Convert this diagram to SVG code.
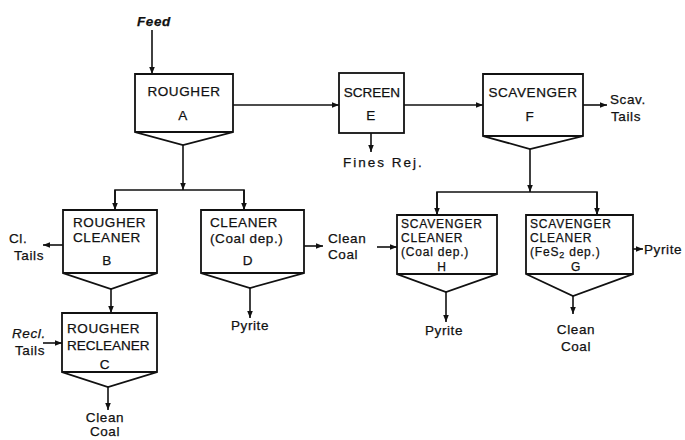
<svg xmlns="http://www.w3.org/2000/svg" width="685" height="440" viewBox="0 0 685 440">
<style>
.box{fill:#fff;stroke:#111;stroke-width:1.8;stroke-linejoin:miter}
.ln{fill:none;stroke:#111;stroke-width:1.6;marker-end:url(#ah)}
.pl{fill:none;stroke:#111;stroke-width:1.6}
text{font-family:"Liberation Sans",Arial,sans-serif;font-size:13.5px;fill:#111;stroke:#111;stroke-width:0.25;letter-spacing:0.6px}
.c{text-anchor:middle}
.s{font-size:12px;letter-spacing:0.8px}
</style>
<defs>
<marker id="ah" viewBox="0 0 10 10" refX="10" refY="5" markerWidth="7" markerHeight="7" markerUnits="userSpaceOnUse" orient="auto">
<path d="M0,1 L10,5 L0,9 z" fill="#111"/>
</marker>
</defs>
<rect width="685" height="440" fill="#fff"/>

<g id="connectors">
<path class="ln" d="M152,30 V74"/>
<path class="ln" d="M233,105 H339"/>
<path class="ln" d="M404,105 H483"/>
<path class="ln" d="M371,133 V152"/>
<path class="ln" d="M583,105 H607"/>
<path class="ln" d="M183,145 V190"/>
<path class="pl" d="M115,210 V190 H244 V210"/>
<path class="ln" d="M115,190 V210"/>
<path class="ln" d="M244,190 V210"/>
<path class="ln" d="M530,149 V192"/>
<path class="pl" d="M437,215 V192 H597 V215"/>
<path class="ln" d="M437,192 V215"/>
<path class="ln" d="M597,192 V215"/>
<path class="ln" d="M63,245 H43"/>
<path class="ln" d="M111,289 V313"/>
<path class="ln" d="M43,343 H62"/>
<path class="ln" d="M108,387 V410"/>
<path class="ln" d="M304,246 H323"/>
<path class="ln" d="M250,288 V318"/>
<path class="ln" d="M377,247 H397"/>
<path class="ln" d="M446,292 V322"/>
<path class="ln" d="M633,249 H643"/>
<path class="ln" d="M573,296 V314"/>
</g>

<g id="labels">
<text x="137" y="26" font-style="italic" font-weight="bold">Feed</text>
<text x="343" y="167" style="letter-spacing:2px">Fines Rej.</text>
<text x="610" y="104">Scav.</text>
<text x="611" y="121">Tails</text>
<text x="9" y="243">Cl.</text>
<text x="14" y="260">Tails</text>
<text x="12" y="338" font-style="italic">Recl.</text>
<text x="15" y="355">Tails</text>
<text x="105" y="422" class="c">Clean</text>
<text x="105" y="436" class="c">Coal</text>
<text x="328" y="243">Clean</text>
<text x="328" y="259">Coal</text>
<text x="250" y="330" class="c">Pyrite</text>
<text x="444" y="335" class="c">Pyrite</text>
<text x="644" y="254">Pyrite</text>
<text x="576" y="334" class="c">Clean</text>
<text x="576" y="351" class="c">Coal</text>
</g>

<g id="A">
<path class="box" d="M135,74 H233 V132 L183,145 L135,132 Z M135,132 H233"/>
<text x="184" y="96" class="c">ROUGHER</text>
<text x="183" y="120" class="c">A</text>
</g>
<g id="E">
<rect class="box" x="339" y="73" width="65" height="60"/>
<text x="372" y="97" class="c" style="letter-spacing:0">SCREEN</text>
<text x="371" y="120" class="c">E</text>
</g>
<g id="F">
<path class="box" d="M483,74 H583 V136 L530,149 L483,136 Z M483,136 H583"/>
<text x="533" y="97" class="c">SCAVENGER</text>
<text x="530" y="121" class="c">F</text>
</g>
<g id="B">
<path class="box" d="M63,210 H157 V273 L111,289 L63,273 Z M63,273 H157"/>
<text x="73" y="227">ROUGHER</text>
<text x="73" y="242">CLEANER</text>
<text x="107" y="265" class="c">B</text>
</g>
<g id="C">
<path class="box" d="M62,313 H157 V372 L108,387 L62,372 Z M62,372 H157"/>
<text x="67" y="333">ROUGHER</text>
<text x="67" y="350" style="letter-spacing:0">RECLEANER</text>
<text x="105" y="369" class="c">C</text>
</g>
<g id="D">
<path class="box" d="M201,210 H304 V273 L250,288 L201,273 Z M201,273 H304"/>
<text x="210" y="227">CLEANER</text>
<text x="210" y="243">(Coal dep.)</text>
<text x="248" y="265" class="c">D</text>
</g>
<g id="H">
<path class="box" d="M397,215 H497 V274 L446,292 L397,274 Z M397,274 H497"/>
<text x="401" y="228" class="s">SCAVENGER</text>
<text x="401" y="242" class="s">CLEANER</text>
<text x="401" y="256" class="s">(Coal dep.)</text>
<text x="442" y="271" class="c s">H</text>
</g>
<g id="G">
<path class="box" d="M526,215 H633 V274 L573,296 L526,274 Z M526,274 H633"/>
<text x="530" y="228" class="s">SCAVENGER</text>
<text x="530" y="242" class="s">CLEANER</text>
<text x="530" y="256" class="s">(FeS<tspan font-size="9" dy="2">2</tspan><tspan dy="-2"> dep.)</tspan></text>
<text x="576" y="271" class="c s">G</text>
</g>
</svg>
